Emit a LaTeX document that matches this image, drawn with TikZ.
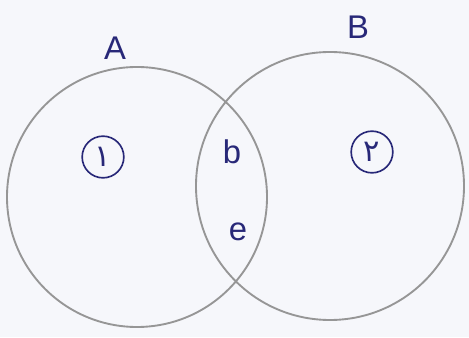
\documentclass[tikz,border=0pt]{standalone}
\usepackage{fontspec}
\setsansfont{Liberation Sans}
\newfontfamily\arabicfont[Script=Arabic]{DejaVu Sans}
\TeXXeTstate=1
\usetikzlibrary{positioning}
\definecolor{pen}{RGB}{40,40,120}
\definecolor{paper}{RGB}{246,247,251}
\definecolor{pencil}{RGB}{150,150,150}

\begin{document}
\begin{tikzpicture}[
  set/.style={draw=pencil,line width=1.6pt},
  lbl/.style={text=pen,font=\sffamily\fontsize{28}{32}\selectfont},
  region/.style={draw=pen,line width=1.4pt,circle,inner sep=1pt,minimum size=1.25cm,
    text=pen,font=\arabicfont\fontsize{26}{30}\selectfont}]
  \fill[paper] (0,0) rectangle (14.07,10.11);
  \useasboundingbox (0,0) rectangle (14.07,10.11);
  % the two sets
  \node[set,circle,minimum size=7.8cm] (A) at (4.11,4.2) {};
  \node[set,circle,minimum size=8.04cm] (B) at (9.9,4.53) {};
  % set names
  \node[lbl] (nameA) at (3.45,8.67) {A};
  \node[lbl] (nameB) at (10.74,9.3) {B};
  % regions
  \node[region] (one) at (3.09,5.4) {\beginR ۱\endR};
  \node[region] (two) at (11.16,5.55) {\beginR ۲\endR};
  \node[lbl] (b) at (6.96,5.55) {b};
  \node[lbl] (e) at (7.14,3.15) {e};
\end{tikzpicture}
\end{document}
